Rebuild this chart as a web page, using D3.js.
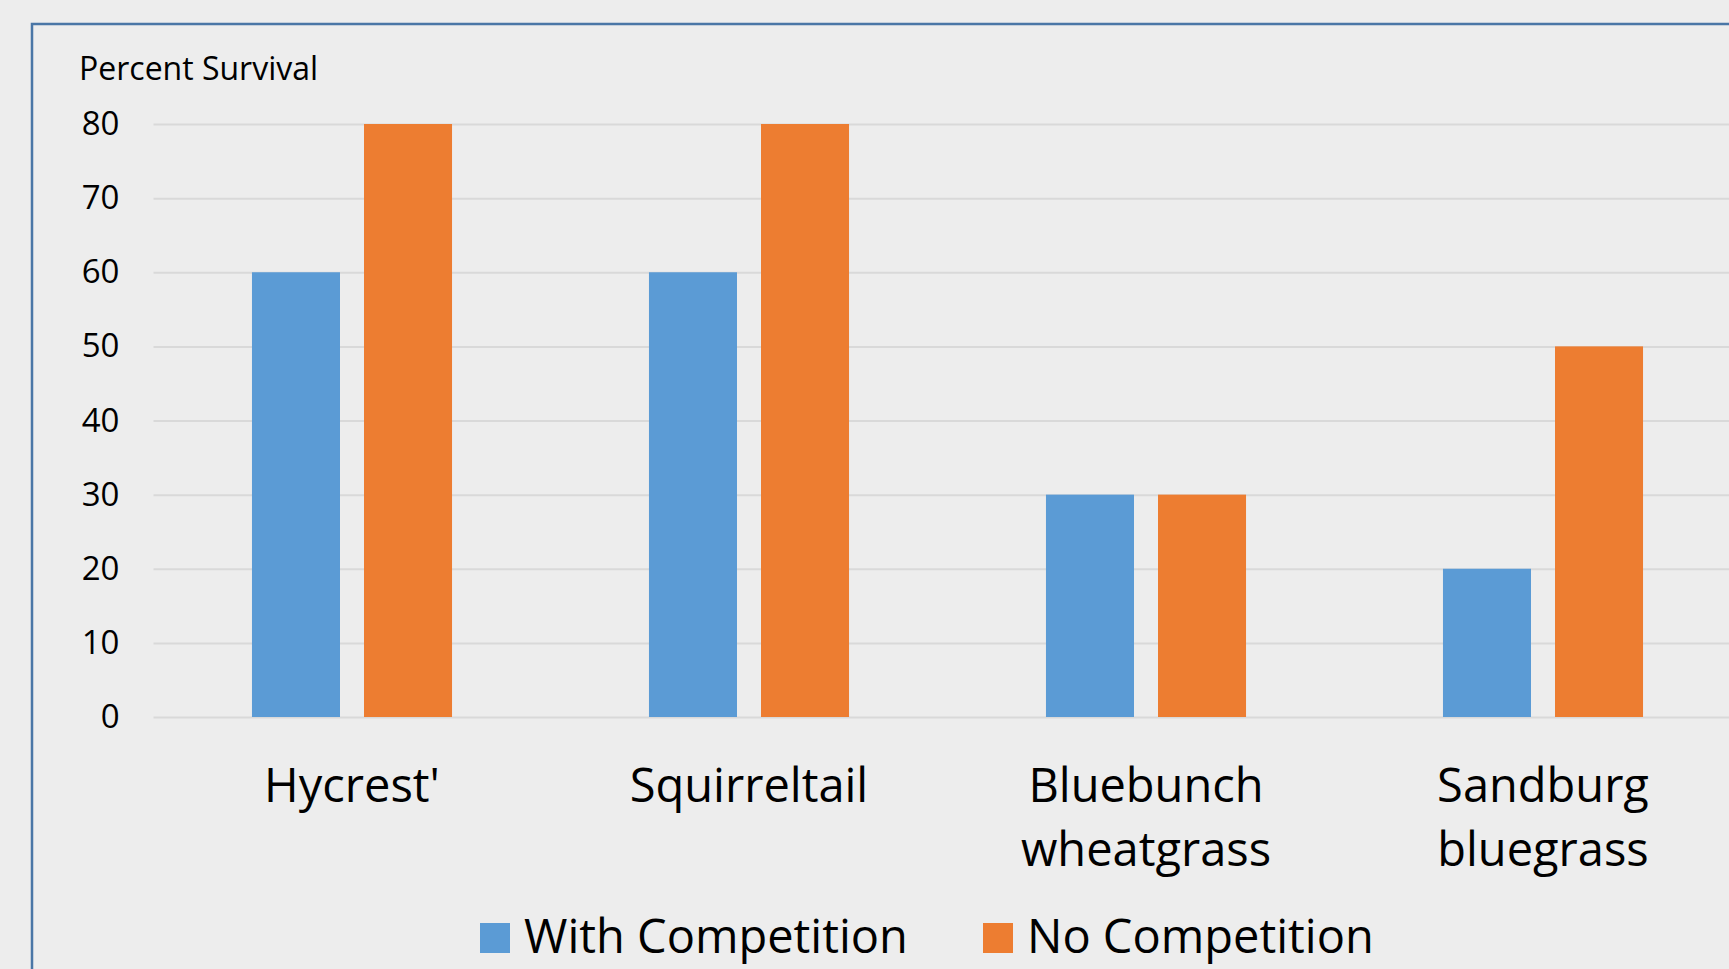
<!DOCTYPE html>
<html><head><meta charset="utf-8">
<script src="https://cdn.jsdelivr.net/npm/d3@7"></script>
<style>
html,body{margin:0;padding:0;background:#ededed;overflow:hidden;}
svg{display:block;}
text{font-family:"Open Sans",sans-serif;fill:#000;}
</style></head>
<body>
<script>
const categories = [["Hycrest'"], ["Squirreltail"], ["Bluebunch", "wheatgrass"], ["Sandburg", "bluegrass"]];
const seriesNames = ["With Competition", "No Competition"];
const withCompetition = [60, 60, 30, 20];
const noCompetition = [80, 80, 30, 50];
const yTicks = [0, 10, 20, 30, 40, 50, 60, 70, 80];
const yTitle = "Percent Survival";
const colors = ["#5B9BD5", "#ED7D31"];

const W = 1729, H = 969;
const svg = d3.select("body").append("svg").attr("width", W).attr("height", H);
svg.append("rect").attr("width", W).attr("height", H).attr("fill", "#ededed");

// chart border (extends beyond the visible area right & bottom)
svg.append("rect").attr("x", 32).attr("y", 24).attr("width", W + 50).attr("height", H + 50)
  .attr("fill", "none").attr("stroke", "#4A76A6").attr("stroke-width", 2.5);

const catKeys = categories.map(c => c.join(" "));
const x0 = d3.scaleBand().domain(catKeys).range([153.5, 153.5 + 4 * 397]).padding(0);
const x1 = d3.scaleBand().domain(seriesNames).range([0, x0.bandwidth()])
  .paddingInner(0.2143).paddingOuter(0.879);
const y = d3.scaleLinear().domain([0, 80]).range([717, 124]);

// gridlines
const yAxis = d3.axisLeft(y).tickValues(yTicks).tickSize(-(x0.range()[1] - x0.range()[0])).tickPadding(34);
const gA = svg.append("g").attr("transform", `translate(${x0.range()[0]},0)`).call(yAxis);
gA.select(".domain").remove();
gA.selectAll(".tick line").attr("stroke", "#d9d9d9").attr("stroke-width", 2);
gA.selectAll(".tick text").attr("font-size", 33).attr("font-family", "Open Sans").attr("fill", "#000");

svg.append("text").attr("x", 79).attr("y", 80).attr("font-size", 32).text(yTitle);

const data = catKeys.map((k, i) => ({ key: k, vals: [withCompetition[i], noCompetition[i]] }));
const groups = svg.append("g").selectAll("g").data(data).join("g")
  .attr("transform", d => `translate(${x0(d.key)},0)`);
groups.selectAll("rect").data(d => d.vals.map((v, j) => ({ s: seriesNames[j], v, j }))).join("rect")
  .attr("x", d => x1(d.s)).attr("width", x1.bandwidth())
  .attr("y", d => y(d.v)).attr("height", d => y(0) - y(d.v))
  .attr("fill", d => colors[d.j]);

// category labels
const labels = svg.append("g").selectAll("text").data(categories).join("text")
  .attr("text-anchor", "middle").attr("font-size", 47)
  .attr("x", (d, i) => x0(catKeys[i]) + x0.bandwidth() / 2).attr("y", 802);
labels.selectAll("tspan").data(d => d).join("tspan")
  .attr("x", function () { return d3.select(this.parentNode).attr("x"); })
  .attr("dy", (d, i) => i === 0 ? 0 : 64).text(d => d);

// legend
const legX = [480, 983];
const leg = svg.append("g").selectAll("g").data(seriesNames).join("g")
  .attr("transform", (d, i) => `translate(${legX[i]},923)`);
leg.append("rect").attr("width", 30).attr("height", 30).attr("fill", (d, i) => colors[i]);
leg.append("text").attr("x", 44).attr("y", 30).attr("font-size", 47).text(d => d);
</script>
</body></html>
